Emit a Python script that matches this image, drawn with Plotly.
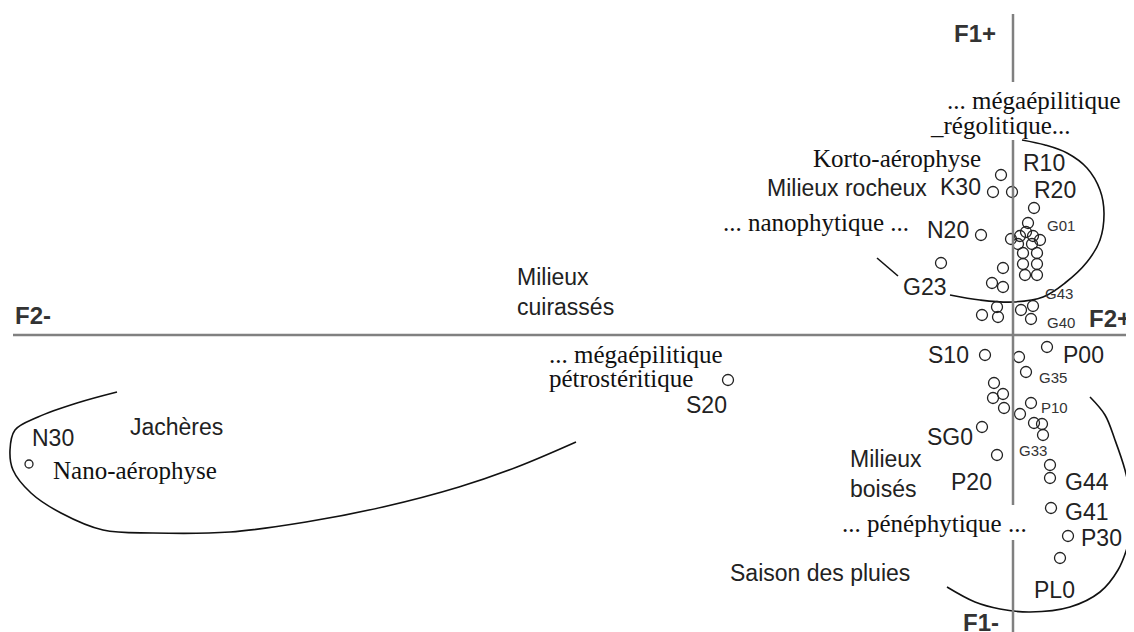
import plotly.graph_objs as go

# factor scores (F2 horizontal, F1 vertical)
f2 = [-0.12, -0.20, -0.01, 0.21, -0.32, 0.15, 0.13, -0.02, 0.07, 0.20, 0.27, 0.05, 0.19,
      0.10, 0.24, 0.10, 0.24, 0.12, 0.24, -0.72, -0.10, -0.21, -0.10, -0.31, -0.16, -0.15,
      0.08, 0.20, 0.18,
      -0.28, 0.06, 0.34, 0.13, -0.19, -0.20, -0.10, -0.09, 0.07, 0.18, 0.21, 0.29, 0.30,
      -0.31, -0.16, 0.37, 0.37, 0.38, 0.55, 0.47, -2.85]
f1 = [1.60, 1.43, 1.43, 1.27, 1.00, 1.12, 1.03, 0.96, 0.99, 0.99, 0.95, 0.91, 0.91,
      0.82, 0.82, 0.71, 0.71, 0.60, 0.60, 0.72, 0.67, 0.52, 0.48, 0.20, 0.28, 0.18,
      0.25, 0.29, 0.16,
      -0.20, -0.22, -0.12, -0.37, -0.48, -0.63, -0.59, -0.73, -0.79, -0.68, -0.88, -0.89, -1.00,
      -0.92, -1.20, -1.30, -1.43, -1.73, -2.01, -2.23, -0.45]
n30_f2 = [-9.84]
n30_f1 = [-1.29]

# envelopes
rocheux_x = [-0.63, -0.33, 0.00, 0.30, 0.52, 0.74, 0.87, 0.91, 0.87, 0.74, 0.54, 0.32, 0.09]
rocheux_y = [0.40, 0.35, 0.33, 0.38, 0.52, 0.73, 0.95, 1.22, 1.45, 1.67, 1.82, 1.90, 1.95]
tick_x = [-1.36, -1.15]
tick_y = [0.77, 0.59]
boises_x = [0.77, 0.92, 1.02, 1.12, 1.18, 1.20, 1.15, 1.05, 0.87, 0.57, 0.17, -0.13, -0.38, -0.66]
boises_y = [-0.62, -0.80, -1.05, -1.35, -1.65, -1.87, -2.10, -2.35, -2.57, -2.72, -2.77, -2.74, -2.67, -2.52]
jach_x = [-8.96, -9.36, -9.75, -9.98, -10.03, -10.00, -9.82, -9.52, -9.10, -8.60, -7.83,
          -7.07, -6.30, -5.54, -4.96, -4.37]
jach_y = [-0.57, -0.68, -0.82, -0.95, -1.15, -1.35, -1.58, -1.78, -1.95, -1.98, -1.97,
          -1.87, -1.72, -1.52, -1.32, -1.07]

# labels
sans_labels = [("Milieux rocheux", -1.66, 1.47), ("K30", -0.53, 1.48), ("R10", 0.31, 1.72),
               ("R20", 0.42, 1.45), ("N20", -0.65, 1.05), ("G23", -0.89, 0.48),
               ("S20", -3.07, -0.70), ("S10", -0.65, -0.20), ("P00", 0.70, -0.20),
               ("SG0", -0.63, -1.02), ("P20", -0.42, -1.47), ("G44", 0.74, -1.47),
               ("G41", 0.73, -1.77), ("P30", 0.88, -2.03), ("PL0", 0.41, -2.55),
               ("Saison des pluies", -1.93, -2.38), ("Jachères", -8.37, -0.92),
               ("N30", -9.60, -1.03)]
block_labels = [("Milieux<br>cuirassés", -4.98, 0.43), ("Milieux<br>boisés", -1.65, -1.39)]
small_labels = [("G01", 0.48, 1.10), ("G43", 0.46, 0.42), ("G40", 0.48, 0.13),
                ("G35", 0.40, -0.42), ("P10", 0.41, -0.72), ("G33", 0.20, -1.15)]
axis_labels = [("F1+", -0.38, 3.02), ("F2-", -9.80, 0.20), ("F2+", 0.97, 0.17), ("F1-", -0.32, -2.87)]
serif_labels = [("... mégaépilitique", 0.21, 2.35), ("_régolitique...", -0.13, 2.10),
                ("Korto-aérophyse", -1.16, 1.77), ("... nanophytique ...", -1.97, 1.13),
                ("... mégaépilitique", -3.77, -0.19), ("pétrostéritique", -3.92, -0.43),
                ("Nano-aérophyse", -8.78, -1.35), ("... pénéphytique ...", -0.79, -1.88)]

SANS = "Liberation Sans, Arial, sans-serif"
SERIF = "Liberation Serif, Times New Roman, serif"

fig = go.Figure()

# axes
axis_style = dict(color="#808080", width=2.5)
fig.add_shape(type="line", x0=-10.0, x1=1.21, y0=0, y1=0, line=axis_style)
for y0, y1 in [(3.21, 2.53), (1.95, -1.70), (-2.05, -2.97)]:
    fig.add_shape(type="line", x0=0, x1=0, y0=y0, y1=y1, line=axis_style)

for xs, ys in [(rocheux_x, rocheux_y), (tick_x, tick_y), (boises_x, boises_y), (jach_x, jach_y)]:
    fig.add_trace(go.Scatter(x=xs, y=ys, mode="lines", line=dict(color="#111", width=1.6, shape="spline"),
                             hoverinfo="skip"))

fig.add_trace(go.Scatter(x=f2, y=f1, mode="markers",
                         marker=dict(symbol="circle-open", size=11, color="#222", line=dict(width=1.3))))
fig.add_trace(go.Scatter(x=n30_f2, y=n30_f1, mode="markers",
                         marker=dict(symbol="circle-open", size=8, color="#222", line=dict(width=1.3))))

for t, x, y in sans_labels:
    fig.add_annotation(x=x, y=y, text=t, showarrow=False, font=dict(family=SANS, size=23, color="#222"))
for t, x, y in block_labels:
    fig.add_annotation(x=x, y=y, text=t, showarrow=False, xanchor="left", align="left",
                       font=dict(family=SANS, size=23, color="#222"))
for t, x, y in small_labels:
    fig.add_annotation(x=x, y=y, text=t, showarrow=False, font=dict(family=SANS, size=15, color="#333"))
for t, x, y in axis_labels:
    fig.add_annotation(x=x, y=y, text="<b>" + t + "</b>", showarrow=False,
                       font=dict(family=SANS, size=24, color="#333"))
for t, x, y in serif_labels:
    fig.add_annotation(x=x, y=y, text=t, showarrow=False, font=dict(family=SERIF, size=25, color="#111"))

# the page has an 8px body margin, so the figure starts at (8, 8)
fig.update_layout(
    width=1126, height=624,
    margin=dict(l=0, r=0, t=0, b=0),
    paper_bgcolor="white", plot_bgcolor="white",
    showlegend=False,
    xaxis=dict(range=[-10.05, 1.21], visible=False),
    yaxis=dict(range=[-2.97, 3.27], visible=False),
)

fig.write_html("out.html")
